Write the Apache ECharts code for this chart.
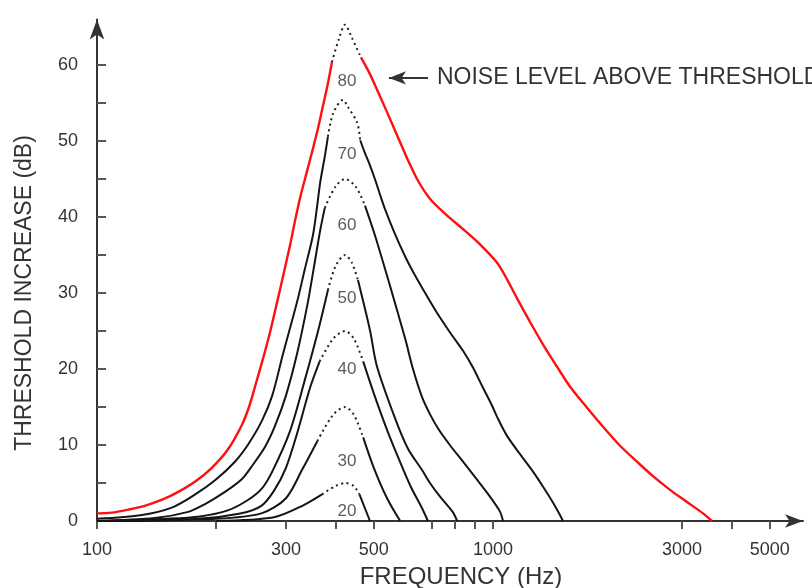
<!DOCTYPE html>
<html>
<head>
<meta charset="utf-8">
<script src="https://cdn.jsdelivr.net/npm/echarts@6/dist/echarts.min.js"></script>
<style>
  html, body { margin: 0; padding: 0; background: #ffffff; }
  #chart { width: 812px; height: 588px; }
</style>
</head>
<body>
<div id="chart"></div>
<script>
// Axis ticks and labels (frequency in Hz, threshold increase in dB)
const xTickHz  = [100, 200, 300, 400, 500, 700, 800, 900, 1000, 3000, 4000, 5000];
const xLabelHz = [100, 300, 500, 1000, 3000, 5000];
const yTickDb  = [0, 5, 10, 15, 20, 25, 30, 35, 40, 45, 50, 55, 60];
const yLabelDb = [0, 10, 20, 30, 40, 50, 60];

// Masking curves, one per noise level above threshold
const curveNames = ['80', '70', '60', '50', '40', '30', '20'];

const hz80 = [100, 109, 120, 132, 146, 160, 177, 195, 214, 232, 242, 251, 263, 274, 285, 295, 307, 316, 326, 339, 351, 362, 372, 383, 392, 408, 423, 440, 464, 489, 509, 540, 572, 606, 643, 693, 765, 840, 927, 1023, 1085, 1150, 1240, 1338, 1451, 1564, 1728, 1896, 2093, 2310, 2535, 2799, 3090, 3391, 3573];
const db80 = [1.0, 1.1, 1.5, 2.0, 2.8, 3.8, 5.2, 7.0, 9.4, 12.6, 15.0, 17.8, 21.5, 25, 28.8, 32.2, 36.2, 39.4, 42.6, 46, 49, 51.8, 54.6, 57.6, 60.4, 63.4, 65.3, 63.6, 61, 58.8, 56.8, 53.8, 50.8, 47.8, 45, 42.4, 40.2, 38.4, 36.4, 34, 31.8, 29.3, 26.2, 23.2, 20.3, 17.7, 14.9, 12.4, 9.9, 7.8, 5.9, 4.1, 2.5, 1.0, 0];
const top80 = [392, 464];

const hz70 = [100, 130, 155, 177, 199, 223, 241, 261, 277, 295, 320, 335, 351, 360, 366, 377, 383, 395, 418, 430, 454, 462, 475, 489, 504, 518, 534, 565, 600, 628, 662, 714, 779, 840, 890, 938, 994, 1024, 1085, 1170, 1262, 1338, 1418, 1476, 1502];
const db70 = [0.3, 0.8, 1.8, 3.5, 5.4, 7.8, 10.1, 13.2, 16.5, 22, 28.8, 33.2, 37.6, 41.6, 44.5, 48.3, 50.6, 53.7, 55.4, 54.5, 52.4, 50.1, 48.4, 46.8, 44.9, 43, 41, 37.8, 34.8, 32.8, 30.7, 27.8, 24.8, 22.4, 20.2, 17.8, 15.2, 13.7, 11.2, 8.8, 6.5, 4.5, 2.4, 0.8, 0];
const top70 = [383, 462];

const hz60 = [100, 140, 170, 187, 210, 232, 246, 266, 282, 300, 320, 340, 352, 366, 376, 400, 423, 450, 475, 504, 549, 600, 628, 662, 694, 730, 778, 840, 903, 970, 1040, 1060];
const db60 = [0, 0.4, 1.2, 2.2, 3.8, 5.5, 7.2, 9.8, 12.6, 16.5, 22, 28.5, 33, 38.2, 41.2, 44, 45, 44, 41.5, 37.5, 31, 24, 20, 16.3, 14, 12, 10, 7.8, 5.7, 3.6, 1.3, 0];
const top60 = [376, 475];

const hz50 = [100, 150, 182, 214, 241, 261, 277, 307, 335, 362, 383, 400, 423, 440, 456, 489, 509, 565, 610, 662, 693, 735, 791, 812];
const db50 = [0, 0.3, 0.6, 1.4, 2.8, 4.3, 6.5, 11.8, 18.6, 25.1, 30.4, 33.5, 35, 34, 31.7, 25.1, 20.4, 13.6, 9.5, 6.7, 5, 3.2, 1.2, 0];
const top50 = [383, 456];

const hz40 = [100, 180, 230, 260, 280, 300, 320, 345, 365, 395, 423, 445, 470, 500, 540, 580, 620, 660, 685];
const db40 = [0, 0.3, 1, 2, 4, 7, 11.5, 17.5, 21, 24, 25, 24, 21, 16.8, 12, 8, 4.5, 1.8, 0];
const top40 = [365, 470];

const hz30 = [100, 200, 260, 300, 330, 360, 395, 423, 445, 470, 500, 540, 583];
const db30 = [0, 0.3, 1, 3, 6.8, 10.5, 14, 15, 14, 11, 7, 3, 0];
const top30 = [360, 470];

const hz20 = [200, 280, 330, 370, 400, 423, 445, 460, 489];
const db20 = [0, 0.5, 2, 3.5, 4.6, 5, 4.6, 3.5, 0];
const top20 = [370, 460];

// Where each curve's level is written, inside its peak
const nameHz = [428, 428, 428, 428, 428, 428, 428];
const nameDb = [57.8, 48.2, 38.9, 29.3, 19.9, 7.8, 1.3];

// Pointer to the top curve
const noteText = 'NOISE LEVEL ABOVE THRESHOLD';
const noteFromHz = 685, noteToHz = 546, noteDb = 58.3;

const curves = [
  { hz: hz80, db: db80, top: top80, color: '#ff1010', width: 2.4 },
  { hz: hz70, db: db70, top: top70, color: '#151515', width: 2 },
  { hz: hz60, db: db60, top: top60, color: '#151515', width: 2 },
  { hz: hz50, db: db50, top: top50, color: '#151515', width: 2 },
  { hz: hz40, db: db40, top: top40, color: '#151515', width: 2 },
  { hz: hz30, db: db30, top: top30, color: '#151515', width: 2 },
  { hz: hz20, db: db20, top: top20, color: '#151515', width: 2 }
];

const lg = Math.log10;
const FONT = '"Liberation Sans", Arial, Helvetica, sans-serif';

const series = [];
curves.forEach(function (c, k) {
  const pts = c.hz.map(function (f, i) { return [lg(f), c.db[i]]; });
  const a = c.hz.indexOf(c.top[0]);
  const b = c.hz.indexOf(c.top[1]);
  const base = { type: 'line', symbol: 'none', smooth: 0.3, silent: true, z: k === 0 ? 3 : 2 };
  series.push(Object.assign({}, base, {
    name: curveNames[k] + ' rise',
    data: pts.slice(0, a + 1),
    lineStyle: { color: c.color, width: c.width }
  }));
  series.push(Object.assign({}, base, {
    name: curveNames[k] + ' fall',
    data: pts.slice(b),
    lineStyle: { color: c.color, width: c.width }
  }));
  series.push(Object.assign({}, base, {
    name: curveNames[k] + ' peak',
    data: pts.slice(a, b + 1),
    lineStyle: { color: '#222', width: 2, type: [2, 3.5] }
  }));
});

// Arrow and its caption
series[1].markLine = {
  silent: true,
  symbol: ['none', 'arrow'],
  symbolSize: [10, 17],
  lineStyle: { color: '#333', width: 2, type: 'solid' },
  label: {
    show: true, position: 'start', distance: 9,
    formatter: noteText, color: '#333', fontSize: 23, fontFamily: FONT
  },
  data: [[{ coord: [lg(noteFromHz), noteDb] }, { coord: [lg(noteToHz), noteDb] }]]
};

// Curve level labels
series.push({
  type: 'scatter', symbolSize: 0, silent: true, z: 5,
  data: curveNames.map(function (n, i) { return { name: n, value: [lg(nameHz[i]), nameDb[i]] }; }),
  label: {
    show: true, position: 'inside', formatter: '{b}',
    color: '#333', fontSize: 17, fontFamily: FONT
  }
});

const chart = echarts.init(document.getElementById('chart'), null, { renderer: 'canvas' });
chart.setOption({
  animation: false,
  backgroundColor: '#ffffff',
  grid: { left: 97, right: 9, top: 19.4, bottom: 67 },
  xAxis: {
    type: 'value', min: lg(100), max: 3.7828,
    axisLine: { show: true, symbol: ['none', 'arrow'], symbolSize: [10, 18], lineStyle: { color: '#333', width: 2 } },
    axisTick: { show: true, length: 8, inside: false, customValues: xTickHz.map(lg), lineStyle: { color: '#555', width: 2 } },
    axisLabel: {
      customValues: xLabelHz.map(lg), margin: 20,
      formatter: function (v) { return String(Math.round(Math.pow(10, v))); },
      color: '#333', fontSize: 18, fontFamily: FONT
    },
    splitLine: { show: false }
  },
  yAxis: {
    type: 'value', min: 0, max: 66,
    axisLine: { show: true, symbol: ['none', 'arrow'], symbolSize: [11, 20], lineStyle: { color: '#333', width: 2 } },
    axisTick: { show: true, length: 9, inside: true, customValues: yTickDb, lineStyle: { color: '#555', width: 2 } },
    axisLabel: { customValues: yLabelDb, margin: 19, color: '#333', fontSize: 18, fontFamily: FONT },
    splitLine: { show: false }
  },
  graphic: [
    { type: 'text', x: 25, y: 293, rotation: Math.PI / 2, silent: true,
      style: { text: 'THRESHOLD INCREASE (dB)', fill: '#333', font: '23px ' + FONT, align: 'center', verticalAlign: 'middle' } },
    { type: 'text', x: 461, y: 577, silent: true,
      style: { text: 'FREQUENCY (Hz)', fill: '#333', font: '24px ' + FONT, align: 'center', verticalAlign: 'middle' } }
  ],
  series: series
});
</script>
</body>
</html>
